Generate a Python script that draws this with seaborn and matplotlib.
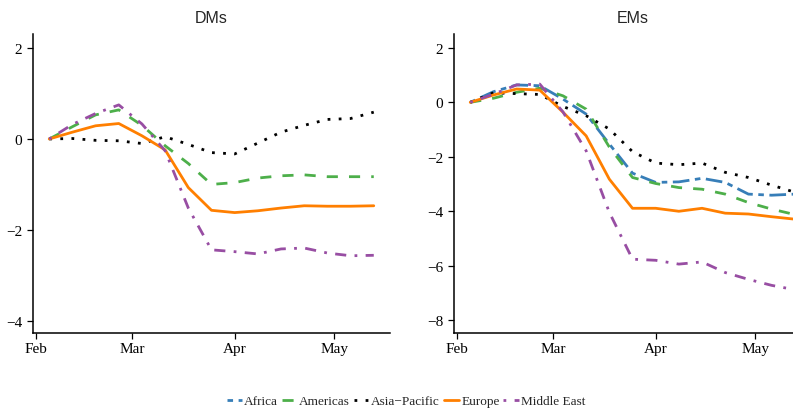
import pandas as pd
import matplotlib
matplotlib.use("Agg")
import matplotlib.pyplot as plt
import matplotlib.dates as mdates
import seaborn as sns

# Weekly observations, 5 Feb – 13 May 2020
weeks = pd.date_range("2020-02-05", "2020-05-13", freq="7D")

region_names = ["Africa", "Americas", "Asia\u2212Pacific", "Europe", "Middle East"]
panel_titles = ["DMs", "EMs"]

# Developed markets
dm_americas = [0, 0.27, 0.53, 0.64, 0.30, -0.15, -0.54, -1.00, -0.96, -0.86, -0.81, -0.79, -0.83, -0.83, -0.83]
dm_asia_pacific = [0, 0.01, -0.03, -0.04, -0.10, 0.05, -0.12, -0.30, -0.33, -0.09, 0.15, 0.30, 0.43, 0.45, 0.59]
dm_europe = [0, 0.15, 0.29, 0.34, 0.07, -0.24, -1.07, -1.57, -1.62, -1.58, -1.52, -1.47, -1.48, -1.48, -1.47]
dm_middle_east = [0, 0.32, 0.56, 0.75, 0.33, -0.26, -1.52, -2.44, -2.48, -2.53, -2.42, -2.40, -2.51, -2.57, -2.56]

# Emerging markets
em_africa = [0, 0.39, 0.64, 0.61, 0.12, -0.43, -1.53, -2.60, -2.94, -2.92, -2.79, -2.94, -3.37, -3.41, -3.37]
em_americas = [0, 0.15, 0.37, 0.52, 0.24, -0.25, -1.64, -2.76, -2.98, -3.13, -3.19, -3.37, -3.68, -3.92, -4.12]
em_asia_pacific = [0, 0.35, 0.32, 0.29, -0.15, -0.49, -0.98, -1.81, -2.23, -2.29, -2.23, -2.57, -2.76, -3.04, -3.30]
em_europe = [0, 0.27, 0.49, 0.45, -0.36, -1.23, -2.82, -3.89, -3.89, -4.00, -3.89, -4.07, -4.10, -4.20, -4.29]
em_middle_east = [0, 0.30, 0.64, 0.67, -0.35, -1.78, -4.04, -5.76, -5.80, -5.94, -5.86, -6.25, -6.50, -6.72, -6.88]

series = {
    "DMs": {
        "Americas": dm_americas,
        "Asia\u2212Pacific": dm_asia_pacific,
        "Europe": dm_europe,
        "Middle East": dm_middle_east,
    },
    "EMs": {
        "Africa": em_africa,
        "Americas": em_americas,
        "Asia\u2212Pacific": em_asia_pacific,
        "Europe": em_europe,
        "Middle East": em_middle_east,
    },
}

rows = []
for panel, group in series.items():
    for region, values in group.items():
        for week, value in zip(weeks, values):
            rows.append({"panel": panel, "region": region, "week": week, "value": value})
df = pd.DataFrame(rows)

palette = {
    "Africa": "#377EB8",
    "Americas": "#4DAF4A",
    "Asia\u2212Pacific": "#000000",
    "Europe": "#FF7F00",
    "Middle East": "#984EA3",
}
dash_styles = {
    "Africa": (2, 2, 6, 2),
    "Americas": (4, 4),
    "Asia\u2212Pacific": (1, 3),
    "Europe": "",
    "Middle East": (1, 3, 4, 3),
}

sns.set_theme(style="ticks")
plt.rcParams["font.family"] = ["Liberation Serif", "DejaVu Serif"]
plt.rcParams["axes.edgecolor"] = "black"
plt.rcParams["xtick.color"] = "black"
plt.rcParams["ytick.color"] = "black"
plt.rcParams["axes.linewidth"] = 1.1

fig = plt.figure(figsize=(7.93, 4.10), dpi=100)
ax_dm = fig.add_axes([33 / 793, 76 / 410, 357 / 793, 299 / 410])
ax_em = fig.add_axes([454 / 793, 76 / 410, 357 / 793, 299 / 410])

limits = {"DMs": (-4.27, 2.31), "EMs": (-8.47, 2.51)}
ticks = {"DMs": [-4, -2, 0, 2], "EMs": [-8, -6, -4, -2, 0, 2]}
pad = pd.Timedelta(days=4.9)
line_width = 2.0

for ax, panel in zip([ax_dm, ax_em], panel_titles):
    sub = df[df["panel"] == panel]
    order = [r for r in region_names if r in series[panel]]
    sns.lineplot(
        data=sub, x="week", y="value", hue="region", style="region",
        hue_order=order, style_order=order, palette=palette,
        dashes=dash_styles, linewidth=line_width, ax=ax,
    )
    ax.set_xlim(weeks[0] - pad, weeks[-1] + pad)
    ax.set_ylim(*limits[panel])
    ax.set_yticks(ticks[panel])
    ax.xaxis.set_major_locator(mdates.MonthLocator())
    ax.xaxis.set_major_formatter(mdates.DateFormatter("%b"))
    ax.set_xlabel("")
    ax.set_ylabel("")
    ax.tick_params(axis="both", length=4.3, width=0.9, labelsize=11, labelcolor="black")
    ax.tick_params(axis="x", pad=2.5)
    ax.tick_params(axis="y", pad=3.5)
    ax.set_title(panel, fontsize=11.5, family=["Liberation Sans", "DejaVu Sans"], pad=8.5)
    sns.despine(ax=ax)

handles, labels = ax_em.get_legend_handles_labels()
for ax in (ax_dm, ax_em):
    if ax.get_legend() is not None:
        ax.get_legend().remove()

leg = fig.legend(
    handles, labels, loc="center", bbox_to_anchor=(406 / 793, 8 / 410),
    ncol=5, frameon=False, fontsize=9.5, handlelength=1.15,
    handletextpad=0.15, columnspacing=0.3, borderpad=0, borderaxespad=0,
)
for h in leg.legend_handles:
    h.set_linewidth(line_width)

fig.savefig("out.png", dpi=100)
